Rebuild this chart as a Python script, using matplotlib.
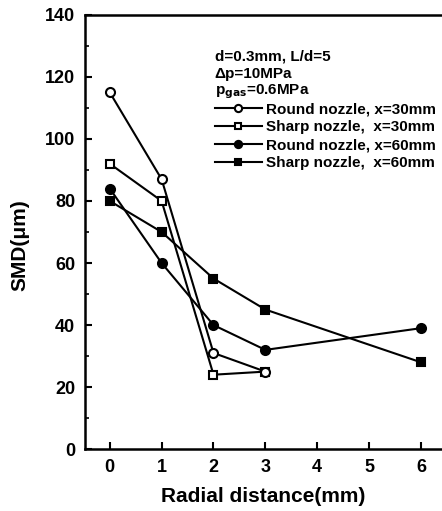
import matplotlib
matplotlib.use('Agg')
import matplotlib.pyplot as plt
from matplotlib.ticker import MultipleLocator

plt.rcParams['font.family'] = ['Liberation Sans', 'DejaVu Sans']
plt.rcParams['font.weight'] = 'bold'
plt.rcParams['mathtext.default'] = 'bf'

# x positions are evenly spaced categories 0..6
tick_labels = ['0', '1', '2', '3', '4', '5', '6']
pos_30 = [0, 1, 2, 3]
pos_60 = [0, 1, 2, 3, 6]

round_30 = [115, 87, 31, 25]
sharp_30 = [92, 80, 24, 25]
round_60 = [84, 60, 40, 32, 39]
sharp_60 = [80, 70, 55, 45, 28]

fig = plt.figure(figsize=(4.42, 5.11), dpi=100)
ax = fig.add_axes([0.192, 0.121, 0.805, 0.850])

kw = dict(color='black', lw=1.5, markeredgewidth=1.5)
ax.plot(pos_30, sharp_30, marker='s', mfc='white', markersize=6, label='Sharp nozzle,  x=30mm', **kw)
ax.plot(pos_30, round_30, marker='o', mfc='white', markersize=6.5, label='Round nozzle, x=30mm', **kw)
ax.plot(pos_60, round_60, marker='o', mfc='black', markersize=6.5, label='Round nozzle, x=60mm', **kw)
ax.plot(pos_60, sharp_60, marker='s', mfc='black', markersize=6, label='Sharp nozzle,  x=60mm', **kw)

ax.set_xlim(-0.48, 6.38)
ax.set_ylim(0, 140)
ax.set_xticks(range(len(tick_labels)))
ax.set_xticklabels(tick_labels)
ax.yaxis.set_major_locator(MultipleLocator(20))
ax.yaxis.set_minor_locator(MultipleLocator(10))
ax.tick_params(direction='in', length=5, width=1.5, labelsize=13, pad=7)
ax.tick_params(which='minor', direction='in', length=3, width=1.2)
for s in ['left', 'bottom', 'top']:
    ax.spines[s].set_linewidth(1.8)
ax.spines['right'].set_visible(False)

ax.set_xlabel('Radial distance(mm)', fontsize=15, fontweight='bold', labelpad=8)
ax.set_ylabel('SMD(\u03bcm)', fontsize=15, fontweight='bold')
ax.yaxis.set_label_coords(-0.155, 0.47)

tx = 0.365
ax.text(tx, 0.904, 'd=0.3mm, L/d=5', transform=ax.transAxes, fontsize=11, va='center')
ax.text(tx, 0.864, '\u0394p=10MPa', transform=ax.transAxes, fontsize=11, va='center')
ax.text(tx, 0.824, 'p$_{gas}$=0.6MPa', transform=ax.transAxes, fontsize=11, va='center')

h, l = ax.get_legend_handles_labels()
order = [1, 0, 2, 3]
ax.legend([h[i] for i in order], [l[i] for i in order],
          loc='upper left', bbox_to_anchor=(tx, 0.799), frameon=False, fontsize=11,
          handlelength=3.1, handletextpad=0.26, labelspacing=0.26, borderpad=0,
          borderaxespad=0, markerscale=0.8)

fig.savefig('out.png', dpi=100)
